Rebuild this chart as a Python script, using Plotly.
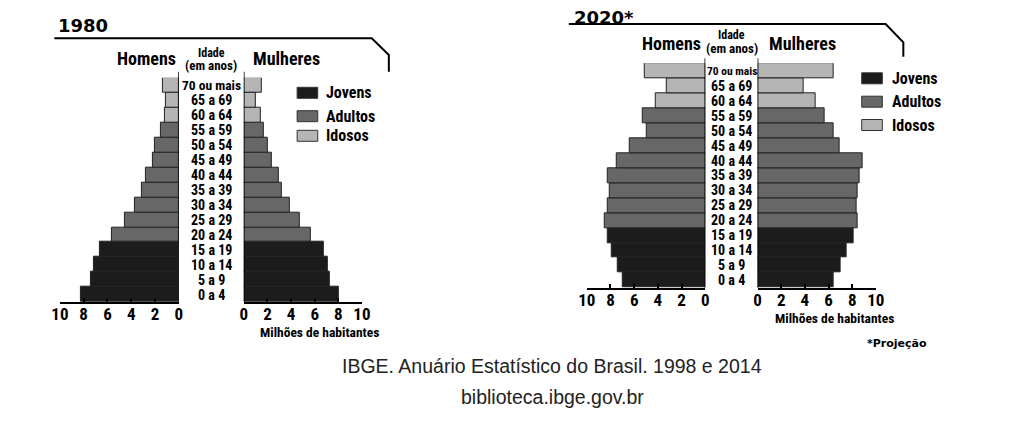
import plotly.graph_objects as go

W, H = 993, 422
OFF = 8  # margem do body da página

ages = ['0 a 4', '5 a 9', '10 a 14', '15 a 19', '20 a 24', '25 a 29', '30 a 34',
        '35 a 39', '40 a 44', '45 a 49', '50 a 54', '55 a 59', '60 a 64',
        '65 a 69', '70 ou mais']
grupo = ['Jovens'] * 4 + ['Adultos'] * 8 + ['Idosos'] * 3

# milhões de habitantes
homens_1980 = [8.2, 7.4, 7.1, 6.6, 5.65, 4.55, 3.7, 3.1, 2.75, 2.2, 2.0, 1.5, 1.2, 1.05, 1.35]
mulheres_1980 = [8.05, 7.25, 7.1, 6.75, 5.7, 4.75, 3.9, 3.2, 2.95, 2.4, 2.0, 1.7, 1.4, 1.05, 1.55]
homens_2020 = [7.0, 7.4, 7.9, 8.25, 8.5, 8.25, 8.1, 8.25, 7.45, 6.4, 4.95, 5.3, 4.2, 3.25, 5.1]
mulheres_2020 = [6.4, 7.0, 7.55, 8.1, 8.45, 8.35, 8.5, 8.6, 8.9, 6.9, 6.4, 5.7, 4.9, 3.9, 6.4]

ticks = [0, 2, 4, 6, 8, 10]

cores = {'Jovens': '#1c1c1c', 'Adultos': '#676767', 'Idosos': '#b5b5b5'}
legenda = ['Jovens', 'Adultos', 'Idosos']

COND = 'Roboto, Open Sans, sans-serif'
WIDE = 'DejaVu Sans, Verdana, sans-serif'


def cond(s):
    return '<span style="font-stretch:condensed"><b>%s</b></span>' % s


def px(x):
    return (x - OFF) / W


def py(y):
    return 1 - (y - OFF) / H


def barras(vals, xa, ya):
    return go.Bar(x=vals, y=ages, orientation='h', xaxis=xa, yaxis=ya,
                  width=1, showlegend=False, hoverinfo='skip',
                  marker=dict(color=[cores[g] for g in grupo],
                              line=dict(color='#222222', width=1)))


fig = go.Figure()
fig.add_trace(barras(homens_1980, 'x', 'y'))
fig.add_trace(barras(mulheres_1980, 'x2', 'y'))
fig.add_trace(barras(homens_2020, 'x3', 'y2'))
fig.add_trace(barras(mulheres_2020, 'x4', 'y2'))

eixo_x = dict(showline=True, linecolor='black', linewidth=1.5, ticks='inside',
              ticklen=4, tickwidth=1.5, tickcolor='black', showgrid=False,
              zeroline=False, tickvals=ticks, ticktext=[cond(t) for t in ticks],
              tickfont=dict(family=COND, size=17, color='black'),
              ticklabelstandoff=-4)
eixo_y = dict(type='category', categoryorder='array', categoryarray=ages,
              range=[-0.5, 14.5], visible=False)

fig.update_layout(
    width=W, height=H, margin=dict(l=0, r=0, t=0, b=0),
    paper_bgcolor='white', plot_bgcolor='white', bargap=0,
    xaxis=dict(eixo_x, domain=[px(51.7), px(172.7)], range=[10, 0], anchor='y'),
    xaxis2=dict(eixo_x, domain=[px(239), px(359.3)], range=[0, 10], anchor='y'),
    xaxis3=dict(eixo_x, domain=[px(588.3), px(709)], range=[10, 0], anchor='y2'),
    xaxis4=dict(eixo_x, domain=[px(762.3), px(882.7)], range=[0, 10], anchor='y2'),
    yaxis=dict(eixo_y, domain=[py(302), py(77.7)]),
    yaxis2=dict(eixo_y, domain=[py(287.7), py(63.3)]),
)

shapes = []
ann = []


def txt(x, y, s, size, fam=COND, xanchor='center', color='black', yref='paper'):
    ann.append(dict(x=px(x), y=py(y) if yref == 'paper' else y, xref='paper', yref=yref,
                    text=s, showarrow=False, xanchor=xanchor, yanchor='middle',
                    font=dict(family=fam, size=size, color=color)))


def linha_paper(pts):
    path = 'M ' + ' L '.join('%f,%f' % (px(a), py(b)) for a, b in pts)
    shapes.append(dict(type='path', path=path, xref='paper', yref='paper',
                       line=dict(color='black', width=2)))


paineis = [
    dict(ano='<b>1980</b>', ano_x=48, ano_y=25, cab=[(46, 38.3), (369.3, 38.3), (386.7, 55), (386.7, 71.7)],
         hom=171.7, mul=246.7, cab_y=58.3, id_x=205.7, id_y=(53.3, 65.3), eixo='y',
         xl='x', xr='x2', top=71.7, base=301.7, leg_x=293.3, leg_y=[92.8, 116.2, 135.8], leg_lx=321,
         mil_x=253.3, mil_y=332, mais=13.5),
    dict(ano='<b>2020*</b>', ano_x=573, ano_y=17, cab=[(570, 24), (892.7, 24), (910.7, 42.3), (910.7, 56.7)],
         hom=706.7, mul=771.7, cab_y=43.3, id_x=735.7, id_y=(35, 48.3), eixo='y2',
         xl='x3', xr='x4', top=58.3, base=287.7, leg_x=868.3, leg_y=[78.3, 101.7, 125], leg_lx=896.7,
         mil_x=778.3, mil_y=318, mais=11.5),
]

for p in paineis:
    txt(p['ano_x'], p['ano_y'], p['ano'], 18, fam=WIDE, xanchor='left')
    linha_paper(p['cab'])
    txt(p['hom'], p['cab_y'], cond('Homens'), 18, xanchor='right')
    txt(p['mul'], p['cab_y'], cond('Mulheres'), 18, xanchor='left')
    txt(p['id_x'], p['id_y'][0], cond('Idade'), 12)
    txt(p['id_x'], p['id_y'][1], cond('(em anos)'), 13)
    for a in ages:
        txt(p['id_x'], a, cond(a), 14 if a != '70 ou mais' else p['mais'], yref=p['eixo'])
    for xa in (p['xl'], p['xr']):
        shapes.append(dict(type='line', xref=xa, x0=0, x1=0, yref='paper',
                           y0=py(p['top']), y1=py(p['base']),
                           line=dict(color='black', width=1.5)))
    for g, yy in zip(legenda, p['leg_y']):
        shapes.append(dict(type='rect', xref='paper', yref='paper',
                           x0=px(p['leg_x']), x1=px(p['leg_x'] + 21),
                           y0=py(yy - 5.5), y1=py(yy + 5.5),
                           fillcolor=cores[g], line=dict(color='#333333', width=1)))
        txt(p['leg_lx'], yy, cond(g), 16, xanchor='left')
    txt(p['mil_x'], p['mil_y'], cond('Milhões de habitantes'), 13.5, xanchor='left')

txt(871.7, 343.3, '<b>*Projeção</b>', 11, fam=WIDE, xanchor='left')
txt(553, 365.7, 'IBGE. Anuário Estatístico do Brasil. 1998 e 2014', 19.5,
    fam='Liberation Sans, Arial, sans-serif', color='#222222')
txt(553, 396.7, 'biblioteca.ibge.gov.br', 19.5,
    fam='Liberation Sans, Arial, sans-serif', color='#222222')

fig.update_layout(shapes=shapes, annotations=ann)
fig.write_html('out.html')
